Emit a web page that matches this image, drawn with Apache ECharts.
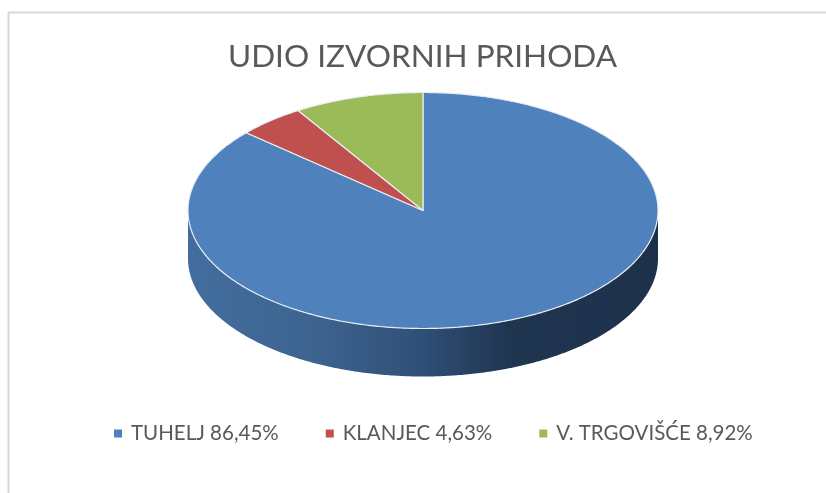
<!DOCTYPE html>
<html lang="en">
<head>
    <meta charset="UTF-8">
    <title>UDIO IZVORNIH PRIHODA</title>
    <script src="https://cdn.jsdelivr.net/npm/echarts@6/dist/echarts.min.js"></script>
    <style>
        html, body { margin: 0; padding: 0; background: #fff; }
        #charts { width: 826px; height: 493px; }
    </style>
</head>
<body>
<div id="charts"></div>

<script>
    // podaci
    var titleText = 'UDIO IZVORNIH PRIHODA';
    var categories = ['TUHELJ 86,45%', 'KLANJEC 4,63%', 'V. TRGOVIŠĆE 8,92%'];
    var shares = [86.45, 4.63, 8.92];

    var colors = ['#4f81bd', '#c0504d', '#9bbb59'];
    var fontName = 'Lato, "Open Sans", sans-serif';

    // pie geometry on screen
    var cx = 423, cy = 210.5, rx = 235, ry = 118, depth = 48;

    function ellipsePoint(angle, dy) {
        // angle in radians, 0 at the top, going clockwise
        return [cx + rx * Math.sin(angle), cy + (dy || 0) - ry * Math.cos(angle)];
    }

    function arcPoints(from, to, dy) {
        var pts = [];
        var steps = Math.max(2, Math.ceil(Math.abs(to - from) / 0.01));
        for (var i = 0; i <= steps; i++) {
            pts.push(ellipsePoint(from + (to - from) * i / steps, dy));
        }
        return pts;
    }

    var total = shares.reduce(function (a, b) { return a + b; }, 0);

    function startAngle(index) {
        var sum = 0;
        for (var i = 0; i < index; i++) sum += shares[i];
        return sum / total * Math.PI * 2;
    }

    // front wall of the disc
    function wallElement() {
        var top = arcPoints(Math.PI / 2, Math.PI * 1.5, 0);
        var bottom = arcPoints(Math.PI * 1.5, Math.PI / 2, depth);
        return {
            type: 'polygon',
            shape: { points: top.concat(bottom) },
            style: {
                fill: new echarts.graphic.LinearGradient(0, 0, 1, 0, [
                    { offset: 0, color: '#426d9e' },
                    { offset: 0.25, color: '#3e6591' },
                    { offset: 0.5, color: '#2f4f77' },
                    { offset: 0.68, color: '#203550' },
                    { offset: 1, color: '#1d314b' }
                ])
            }
        };
    }

    function makeRenderItem(index) {
        return function (params, api) {
            var from = startAngle(index);
            var to = from + api.value(0) / total * Math.PI * 2;
            var children = [];
            if (index === 0) children.push(wallElement());
            children.push({
                type: 'polygon',
                shape: { points: [[cx, cy]].concat(arcPoints(from, to, 0)) },
                style: {
                    fill: api.visual('color'),
                    stroke: '#e8edf3',
                    lineWidth: 1.2,
                    lineJoin: 'round'
                }
            });
            return { type: 'group', children: children };
        };
    }

    var series = categories.map(function (name, i) {
        return {
            type: 'custom',
            name: name,
            coordinateSystem: 'none',
            itemStyle: { color: colors[i] },
            data: [[shares[i]]],
            renderItem: makeRenderItem(i),
            silent: true
        };
    });

    var myChart = echarts.init(document.getElementById('charts'), null, { renderer: 'canvas' });
    myChart.setOption({
        animation: false,
        backgroundColor: '#fff',
        title: {
            text: titleText,
            left: 223,
            top: 36,
            textStyle: { fontFamily: fontName, fontSize: 31.5, fontWeight: 'normal', color: '#595959' }
        },
        legend: {
            data: categories,
            bottom: 44,
            left: 109,
            icon: 'rect',
            itemWidth: 8,
            itemHeight: 8,
            itemGap: 47,
            textStyle: { fontFamily: fontName, fontSize: 20.5, color: '#595959', padding: [0, 0, 0, 4] }
        },
        graphic: [
            { type: 'line', shape: { x1: 8, y1: 12.5, x2: 826, y2: 12.5 }, style: { stroke: '#d9d9d9', lineWidth: 2 } },
            { type: 'line', shape: { x1: 8.5, y1: 12, x2: 8.5, y2: 493 }, style: { stroke: '#d9d9d9', lineWidth: 2 } }
        ],
        series: series
    });
</script>
</body>
</html>
